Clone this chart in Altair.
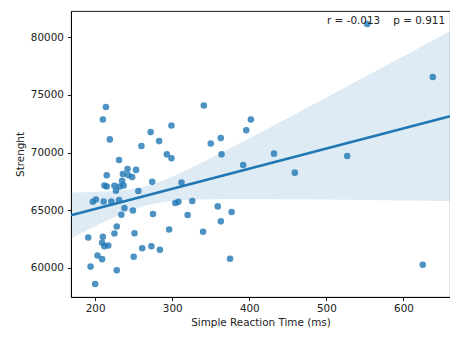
import numpy as np
import pandas as pd
import altair as alt

# ---- data ----
rt = [214, 210, 219, 231, 341, 299, 272, 283, 260, 293, 299, 350, 363, 364, 396,
      402, 392, 553, 638, 432, 527, 459, 625, 215, 242, 253, 236, 243, 248, 235,
      212, 215, 225, 237, 232, 227, 274, 312, 256, 197, 201, 211, 221, 231, 238,
      234, 249, 275, 304, 308, 326, 320, 359, 377, 363, 340, 296, 228, 225, 191,
      210, 209, 212, 217, 251, 261, 273, 284, 203, 209, 250, 194, 228, 200, 375]
strength = [73950, 72870, 71140, 69350, 74080, 72350, 71770, 70990, 70560, 69840,
            69500, 70790, 71250, 69840, 71940, 72870, 68920, 81160, 76550, 69900,
            69700, 68250, 60260, 68030, 68570, 68490, 68140, 68030, 67880, 67540,
            67130, 67050, 67110, 67130, 67050, 66680, 67450, 67390, 66650, 65720,
            65920, 65750, 65750, 65870, 65180, 64600, 64970, 64660, 65610, 65720,
            65780, 64580, 65320, 64840, 64020, 63110, 63310, 63570, 62960, 62620,
            62680, 62160, 61860, 61920, 62990, 61690, 61860, 61550, 61060, 60740,
            60950, 60090, 59770, 58580, 60780]
x_ticks = [200, 300, 400, 500, 600]
y_ticks = [60000, 65000, 70000, 75000, 80000]
annotation = "r = -0.013\u00a0\u00a0\u00a0\u00a0p = 0.911"
x_title = "Simple Reaction Time (ms)"
y_title = "Strenght"

BLUE = "#1f77b4"
FONT = "DejaVu Sans"
W, H = 379, 286

df = pd.DataFrame({"rt": rt, "strength": strength})

x = np.array(rt, float)
y = np.array(strength, float)


def padded(a):
    lo, hi = a.min(), a.max()
    m = 0.05 * (hi - lo)
    return [float(lo - m), float(hi + m)]


xdom = padded(x)
ydom = padded(y)

# OLS fit with a robust (HC3) 95% confidence band
X = np.column_stack([np.ones_like(x), x])
XtX_inv = np.linalg.inv(X.T @ X)
beta = XtX_inv @ X.T @ y
e = y - X @ beta
h = np.sum((X @ XtX_inv) * X, axis=1)
meat = X.T @ (X * (e ** 2 / (1 - h) ** 2)[:, None])
V = XtX_inv @ meat @ XtX_inv
grid = np.linspace(xdom[0], xdom[1], 100)
G = np.column_stack([np.ones_like(grid), grid])
fit = G @ beta
se = np.sqrt(np.sum((G @ V) * G, axis=1))
band = pd.DataFrame({"rt": grid, "fit": fit, "lo": fit - 1.96 * se, "hi": fit + 1.96 * se})

xs = alt.Scale(domain=xdom, nice=False, zero=False)
ys = alt.Scale(domain=ydom, nice=False, zero=False)

xaxis = alt.Axis(values=x_ticks, title=x_title, grid=False, tickSize=3.6,
                 labelPadding=3, titlePadding=3, format="d")
yaxis = alt.Axis(values=y_ticks, title=y_title, grid=False, tickSize=3.6,
                 labelPadding=4, titlePadding=5, format="d")

points = alt.Chart(df).mark_circle(size=43, color=BLUE, opacity=0.8).encode(
    x=alt.X("rt:Q", scale=xs, axis=xaxis),
    y=alt.Y("strength:Q", scale=ys, axis=yaxis),
)

line = alt.Chart(band).mark_line(color=BLUE, strokeWidth=2.6, clip=True).encode(
    x=alt.X("rt:Q", scale=xs),
    y=alt.Y("fit:Q", scale=ys),
)

area = alt.Chart(band).mark_area(color=BLUE, opacity=0.15, clip=True).encode(
    x=alt.X("rt:Q", scale=xs),
    y=alt.Y("lo:Q", scale=ys),
    y2="hi:Q",
)

text = alt.Chart(pd.DataFrame({"t": [annotation]})).mark_text(
    align="right", baseline="alphabetic", font=FONT, fontSize=10.4, color="#222222"
).encode(
    text="t:N",
    x=alt.value(W - 5),
    y=alt.value(12.5),
)

chart = alt.layer(points, line, area, text).properties(
    width=W,
    height=H,
    padding={"left": 63, "top": 3, "right": 0, "bottom": 33},
    autosize=alt.AutoSizeParams(type="none"),
).configure_view(
    stroke="black", strokeWidth=0.9
).configure_axis(
    domainColor="black", domainWidth=0.9, tickColor="black", tickWidth=0.9,
    labelColor="#222222", titleColor="#222222", labelFont=FONT, titleFont=FONT,
    labelFontSize=10.4, titleFontSize=10.4, titleFontWeight="normal",
)

chart.save("out.html", embed_options={"renderer": "svg", "actions": False})
